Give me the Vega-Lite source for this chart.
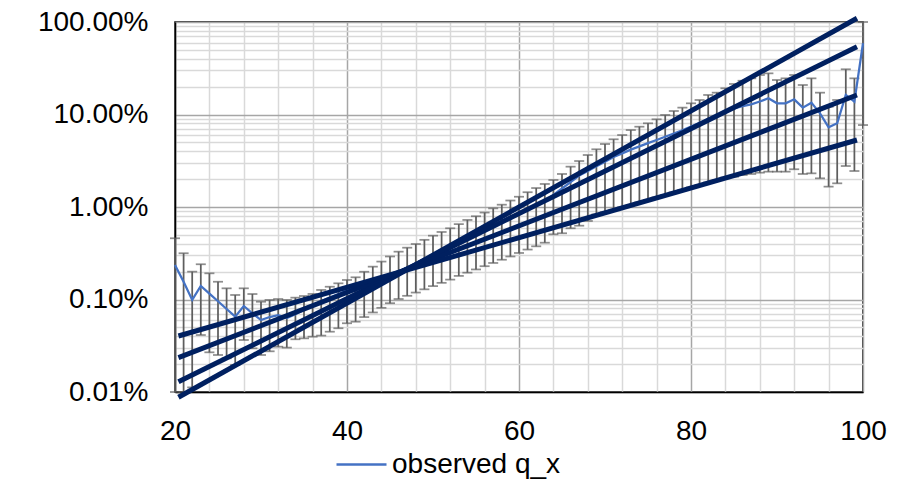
{
"$schema": "https://vega.github.io/schema/vega-lite/v6.json",
"width": 688, "height": 370,
"autosize": {"type": "none"},
"padding": {"left": 175, "top": 22, "right": 41, "bottom": 95},
"background": "white",
"config": {
  "view": {"stroke": "#000000", "strokeWidth": 1.5},
  "font": "Liberation Sans",
  "axis": {"gridWidth": 1.5, "domainColor": "#000000", "domainWidth": 1.5, "ticks": false, "labelFont": "Liberation Sans", "labelFontSize": 28, "labelColor": "#000000", "title": null, "labelOverlap": false, "labelBound": false}
},
"datasets": {
"obs": [
{"age":20,"q":0.00236,"lo":0.0001,"hi":0.004592},
{"age":21,"q":0.001556,"lo":0.0001,"hi":0.003162},
{"age":22,"q":0.000989,"lo":0.0001122,"hi":0.002},
{"age":23,"q":0.0014,"lo":0.000413,"hi":0.002404},
{"age":24,"q":0.001156,"lo":0.0002685,"hi":0.001919},
{"age":25,"q":0.000957,"lo":0.0002512,"hi":0.001556},
{"age":26,"q":0.000789,"lo":0.0002312,"hi":0.001321},
{"age":27,"q":0.000652,"lo":0.0001959,"hi":0.001119},
{"age":28,"q":0.000851,"lo":0.0003648,"hi":0.001321},
{"age":29,"q":0.00071,"lo":0.0002965,"hi":0.001146},
{"age":30,"q":0.0006,"lo":0.0002512,"hi":0.000946},
{"age":31,"q":0.000646,"lo":0.0002754,"hi":0.000989},
{"age":32,"q":0.000679,"lo":0.000309,"hi":0.001012},
{"age":33,"q":0.000631,"lo":0.000302,"hi":0.000989},
{"age":34,"q":0.000692,"lo":0.0003715,"hi":0.001047},
{"age":35,"q":0.000776,"lo":0.0003802,"hi":0.001091},
{"age":36,"q":0.000871,"lo":0.0003963,"hi":0.001148},
{"age":37,"q":0.000955,"lo":0.0004074,"hi":0.001268},
{"age":38,"q":0.001047,"lo":0.0004487,"hi":0.001374},
{"age":39,"q":0.001148,"lo":0.0004887,"hi":0.001496},
{"age":40,"q":0.001259,"lo":0.0005534,"hi":0.001626},
{"age":41,"q":0.001349,"lo":0.0005754,"hi":0.001738},
{"age":42,"q":0.001479,"lo":0.0006457,"hi":0.001995},
{"age":43,"q":0.001585,"lo":0.0007244,"hi":0.002265},
{"age":44,"q":0.001698,"lo":0.0008128,"hi":0.00257},
{"age":45,"q":0.001862,"lo":0.000912,"hi":0.002917},
{"age":46,"q":0.001995,"lo":0.001012,"hi":0.003289},
{"age":47,"q":0.002213,"lo":0.001096,"hi":0.003631},
{"age":48,"q":0.002455,"lo":0.001189,"hi":0.003981},
{"age":49,"q":0.002723,"lo":0.001288,"hi":0.004416},
{"age":50,"q":0.00302,"lo":0.001396,"hi":0.004898},
{"age":51,"q":0.00335,"lo":0.001514,"hi":0.00537},
{"age":52,"q":0.003715,"lo":0.001641,"hi":0.005888},
{"age":53,"q":0.004121,"lo":0.001799,"hi":0.006531},
{"age":54,"q":0.004571,"lo":0.00195,"hi":0.007244},
{"age":55,"q":0.00507,"lo":0.002113,"hi":0.007943},
{"age":56,"q":0.005623,"lo":0.002291,"hi":0.00871},
{"age":57,"q":0.006237,"lo":0.002483,"hi":0.009661},
{"age":58,"q":0.006918,"lo":0.002692,"hi":0.01059},
{"age":59,"q":0.007674,"lo":0.002917,"hi":0.01175},
{"age":60,"q":0.008511,"lo":0.003184,"hi":0.01291},
{"age":61,"q":0.009441,"lo":0.003467,"hi":0.01445},
{"age":62,"q":0.01035,"lo":0.003758,"hi":0.01603},
{"age":63,"q":0.01148,"lo":0.004111,"hi":0.01774},
{"age":64,"q":0.01349,"lo":0.00507,"hi":0.01959},
{"age":65,"q":0.01585,"lo":0.0052,"hi":0.02275},
{"age":66,"q":0.01862,"lo":0.005888,"hi":0.02729},
{"age":67,"q":0.02188,"lo":0.00628,"hi":0.03141},
{"age":68,"q":0.02455,"lo":0.007063,"hi":0.03648},
{"age":69,"q":0.02754,"lo":0.008318,"hi":0.04207},
{"age":70,"q":0.0309,"lo":0.00877,"hi":0.04797},
{"age":71,"q":0.03467,"lo":0.009333,"hi":0.05395},
{"age":72,"q":0.03802,"lo":0.009908,"hi":0.05998},
{"age":73,"q":0.04169,"lo":0.01054,"hi":0.06792},
{"age":74,"q":0.04519,"lo":0.01122,"hi":0.07379},
{"age":75,"q":0.04898,"lo":0.01194,"hi":0.08035},
{"age":76,"q":0.05309,"lo":0.01271,"hi":0.08872},
{"age":77,"q":0.05754,"lo":0.01349,"hi":0.09886},
{"age":78,"q":0.06237,"lo":0.01436,"hi":0.1091},
{"age":79,"q":0.06761,"lo":0.01528,"hi":0.1186},
{"age":80,"q":0.07413,"lo":0.01626,"hi":0.1321},
{"age":81,"q":0.08128,"lo":0.0173,"hi":0.1435},
{"age":82,"q":0.08913,"lo":0.01841,"hi":0.1626},
{"age":83,"q":0.09772,"lo":0.01954,"hi":0.1722},
{"age":84,"q":0.1072,"lo":0.0208,"hi":0.1919},
{"age":85,"q":0.1161,"lo":0.02128,"hi":0.2138},
{"age":86,"q":0.123,"lo":0.02218,"hi":0.2317},
{"age":87,"q":0.1288,"lo":0.02275,"hi":0.246},
{"age":88,"q":0.138,"lo":0.0235,"hi":0.2673},
{"age":89,"q":0.1496,"lo":0.0241,"hi":0.2786},
{"age":90,"q":0.1321,"lo":0.0241,"hi":0.236},
{"age":91,"q":0.1321,"lo":0.0241,"hi":0.246},
{"age":92,"q":0.1459,"lo":0.02559,"hi":0.2673},
{"age":93,"q":0.1186,"lo":0.02275,"hi":0.2084},
{"age":94,"q":0.1343,"lo":0.02312,"hi":0.246},
{"age":95,"q":0.103,"lo":0.02042,"hi":0.1722},
{"age":96,"q":0.07278,"lo":0.0166,"hi":0.1213},
{"age":97,"q":0.08035,"lo":0.01803,"hi":0.1435},
{"age":98,"q":0.1626,"lo":0.02773,"hi":0.3083},
{"age":99,"q":0.1374,"lo":0.02449,"hi":0.246},
{"age":100,"q":0.5888,"lo":0.07691,"hi":1.0}
],
"fit": [
{"line":"A","age":20.4,"q":0.0000877},{"line":"A","age":99.3,"q":1.097},
{"line":"B","age":20.4,"q":0.000129},{"line":"B","age":99.3,"q":0.541},
{"line":"C","age":20.4,"q":0.000235},{"line":"C","age":99.3,"q":0.1626},
{"line":"D","age":20.4,"q":0.000403},{"line":"D","age":99.3,"q":0.053}
]
},
"layer": [
{
  "data": {"name": "obs"},
  "mark": {"type": "rule", "color": "#5e5e5e", "strokeWidth": 1.75},
  "encoding": {
    "x": {"field": "age", "type": "quantitative",
      "scale": {"domain": [20, 100], "nice": false, "zero": false},
      "axis": {"values": [20,24,28,32,36,40,44,48,52,56,60,64,68,72,76,80,84,88,92,96,100],
        "tickCount": 200, "grid": true, "format": "d",
        "gridColor": {"condition": {"test": "abs(datum.value/20 - round(datum.value/20)) < 0.01", "value": "#A6A6A6"}, "value": "#D9D9D9"},
        "labelExpr": "abs(datum.value/20 - round(datum.value/20)) < 0.01 ? datum.label : ''",
        "labelPadding": 25, "labelFlush": false}},
    "y": {"field": "lo", "type": "quantitative",
      "scale": {"type": "log", "domain": [0.0001, 1], "nice": false},
      "axis": {"values": [0.0001,0.0002,0.0003,0.0004,0.0005,0.0006,0.0007,0.0008,0.0009,0.001,0.002,0.003,0.004,0.005,0.006,0.007,0.008,0.009,0.01,0.02,0.03,0.04,0.05,0.06,0.07,0.08,0.09,0.1,0.2,0.3,0.4,0.5,0.6,0.7,0.8,0.9,1],
        "tickCount": 200, "grid": true, "format": ".2%",
        "gridColor": {"condition": {"test": "abs(log(datum.value)/LN10 - round(log(datum.value)/LN10)) < 0.001", "value": "#A6A6A6"}, "value": "#D9D9D9"},
        "labelExpr": "abs(log(datum.value)/LN10 - round(log(datum.value)/LN10)) < 0.001 ? datum.label : ''",
        "labelPadding": 27, "labelFlush": false}},
    "y2": {"field": "hi"}
  }
},
{
  "data": {"name": "obs"},
  "mark": {"type": "tick", "orient": "horizontal", "color": "#5e5e5e", "size": 10, "thickness": 1.75},
  "encoding": {
    "x": {"field": "age", "type": "quantitative"},
    "y": {"field": "hi", "type": "quantitative"}
  }
},
{
  "data": {"name": "obs"},
  "mark": {"type": "tick", "orient": "horizontal", "color": "#5e5e5e", "size": 10, "thickness": 1.75},
  "encoding": {
    "x": {"field": "age", "type": "quantitative"},
    "y": {"field": "lo", "type": "quantitative"}
  }
},
{
  "data": {"name": "obs"},
  "mark": {"type": "line", "strokeWidth": 2.25},
  "encoding": {
    "x": {"field": "age", "type": "quantitative"},
    "y": {"field": "q", "type": "quantitative"},
    "color": {"datum": "observed q_x", "type": "nominal",
      "scale": {"range": ["#4472C4"]},
      "legend": {"title": null, "orient": "none", "legendX": 160, "legendY": 416,
        "symbolType": "stroke", "symbolSize": 2500, "symbolStrokeWidth": 2.5,
        "labelFontSize": 28, "labelFont": "Liberation Sans", "labelColor": "#000000", "labelOffset": 4, "labelLimit": 0}}
  }
},
{
  "data": {"name": "fit"},
  "mark": {"type": "line", "color": "#002060", "strokeWidth": 5, "strokeCap": "butt"},
  "encoding": {
    "x": {"field": "age", "type": "quantitative"},
    "y": {"field": "q", "type": "quantitative"},
    "detail": {"field": "line"}
  }
}
]
}
